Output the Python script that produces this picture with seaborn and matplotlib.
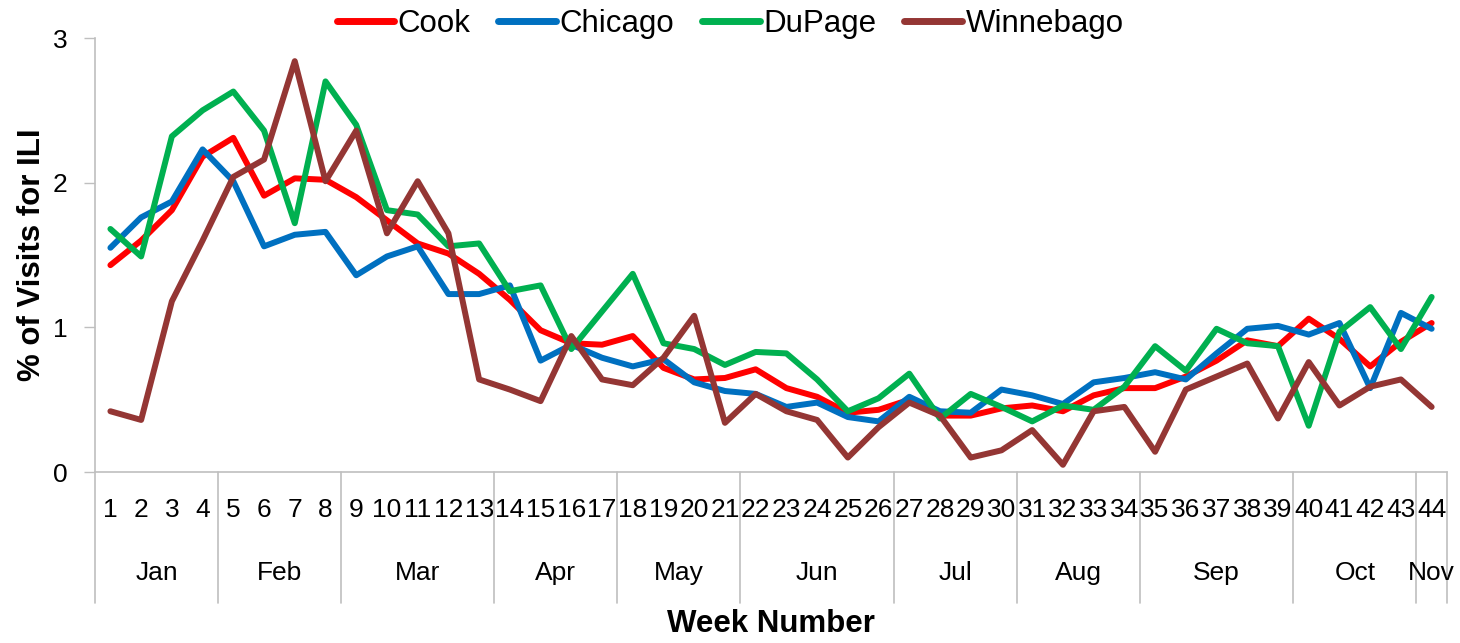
import numpy as np
import pandas as pd
import matplotlib
matplotlib.use('Agg')
import matplotlib.pyplot as plt
import seaborn as sns

weeks = list(range(1, 45))
cook = [1.43, 1.60, 1.81, 2.18, 2.31, 1.91, 2.03, 2.02, 1.90, 1.74,
        1.58, 1.51, 1.37, 1.19, 0.98, 0.89, 0.88, 0.94, 0.72, 0.64,
        0.65, 0.71, 0.58, 0.52, 0.41, 0.43, 0.50, 0.39, 0.39, 0.44,
        0.46, 0.42, 0.53, 0.58, 0.58, 0.66, 0.77, 0.91, 0.87, 1.06,
        0.92, 0.73, 0.90, 1.03]
chicago = [1.55, 1.76, 1.87, 2.23, 2.01, 1.56, 1.64, 1.66, 1.36, 1.49,
           1.56, 1.23, 1.23, 1.29, 0.77, 0.88, 0.79, 0.73, 0.78, 0.62,
           0.56, 0.54, 0.45, 0.48, 0.38, 0.35, 0.52, 0.42, 0.41, 0.57,
           0.53, 0.47, 0.62, 0.65, 0.69, 0.64, 0.82, 0.99, 1.01, 0.95,
           1.03, 0.58, 1.10, 0.99]
dupage = [1.68, 1.49, 2.32, 2.50, 2.63, 2.36, 1.72, 2.70, 2.40, 1.81,
          1.78, 1.56, 1.58, 1.25, 1.29, 0.85, 1.11, 1.37, 0.89, 0.85,
          0.74, 0.83, 0.82, 0.64, 0.42, 0.51, 0.68, 0.37, 0.54, 0.45,
          0.35, 0.46, 0.43, 0.59, 0.87, 0.70, 0.99, 0.89, 0.87, 0.32,
          0.97, 1.14, 0.85, 1.21]
winnebago = [0.42, 0.36, 1.18, 1.60, 2.04, 2.16, 2.84, 2.01, 2.36, 1.65,
             2.01, 1.65, 0.64, 0.57, 0.49, 0.94, 0.64, 0.60, 0.79, 1.08,
             0.34, 0.54, 0.42, 0.36, 0.10, 0.31, 0.48, 0.39, 0.10, 0.15,
             0.29, 0.05, 0.42, 0.45, 0.14, 0.57, 0.66, 0.75, 0.37, 0.76,
             0.46, 0.59, 0.64, 0.45]
months = ['Jan', 'Feb', 'Mar', 'Apr', 'May', 'Jun', 'Jul', 'Aug', 'Sep', 'Oct', 'Nov']
weeks_per_month = [4, 4, 5, 4, 4, 5, 4, 4, 5, 4, 1]

series = {'Cook': cook, 'Chicago': chicago, 'DuPage': dupage, 'Winnebago': winnebago}
palette = {'Cook': '#FF0000', 'Chicago': '#0070C0', 'DuPage': '#00B050', 'Winnebago': '#943634'}

df = pd.concat([pd.DataFrame({'pos': np.arange(len(weeks)), 'week': weeks,
                              'value': v, 'county': k}) for k, v in series.items()])

sns.set_style('white')
plt.rcParams['font.family'] = ['Liberation Sans', 'DejaVu Sans']
plt.rcParams['text.color'] = 'black'
plt.rcParams['axes.labelcolor'] = 'black'

fig = plt.figure(figsize=(14.6, 6.43), dpi=100)
ax = fig.add_axes([0.0651, 0.2659, 0.9260, 0.6750])

sns.lineplot(data=df, x='pos', y='value', hue='county', palette=palette,
             linewidth=4.3, sort=False, ax=ax)

grey = '#BFBFBF'
ax.set_xlim(-0.5, len(weeks) - 0.5)
ax.set_ylim(0, 3)
ax.set_yticks([0, 1, 2, 3])
ax.set_xticks(np.arange(len(weeks)))
ax.set_xticklabels([str(w) for w in weeks])
ax.tick_params(axis='x', length=0, pad=19, labelsize=19, labelcolor='black')
ax.tick_params(axis='y', length=8, width=1, color=grey, direction='out',
               pad=12, labelsize=19, left=True, labelcolor='black')
for s in ['top', 'right']:
    ax.spines[s].set_visible(False)
for s in ['left', 'bottom']:
    ax.spines[s].set_color(grey)
    ax.spines[s].set_linewidth(1.2)

# month separators and labels under the week numbers
trans = ax.get_xaxis_transform()
edges = np.concatenate([[0], np.cumsum(weeks_per_month)]) - 0.5
for e in edges:
    ax.plot([e, e], [0, -0.302], transform=trans, color=grey, lw=1.2, clip_on=False)
for m, a, b in zip(months, edges[:-1], edges[1:]):
    ax.text((a + b) / 2, -0.232, m, transform=trans, ha='center', va='center', fontsize=19)

ax.set_xlabel('Week Number', fontsize=22.5, fontweight='bold', labelpad=62)
ax.set_ylabel('% of Visits for ILI', fontsize=22.5, fontweight='bold', labelpad=4)

handles, labels = ax.get_legend_handles_labels()
ax.get_legend().remove()
for h in handles:
    h.set_linewidth(5)
fig.legend(handles, labels, loc='upper center', bbox_to_anchor=(0.5, 1.03), ncol=4,
           frameon=False, fontsize=22.5, handlelength=1.85, handletextpad=0.1,
           columnspacing=0.9)

fig.savefig('out.png', dpi=100)
